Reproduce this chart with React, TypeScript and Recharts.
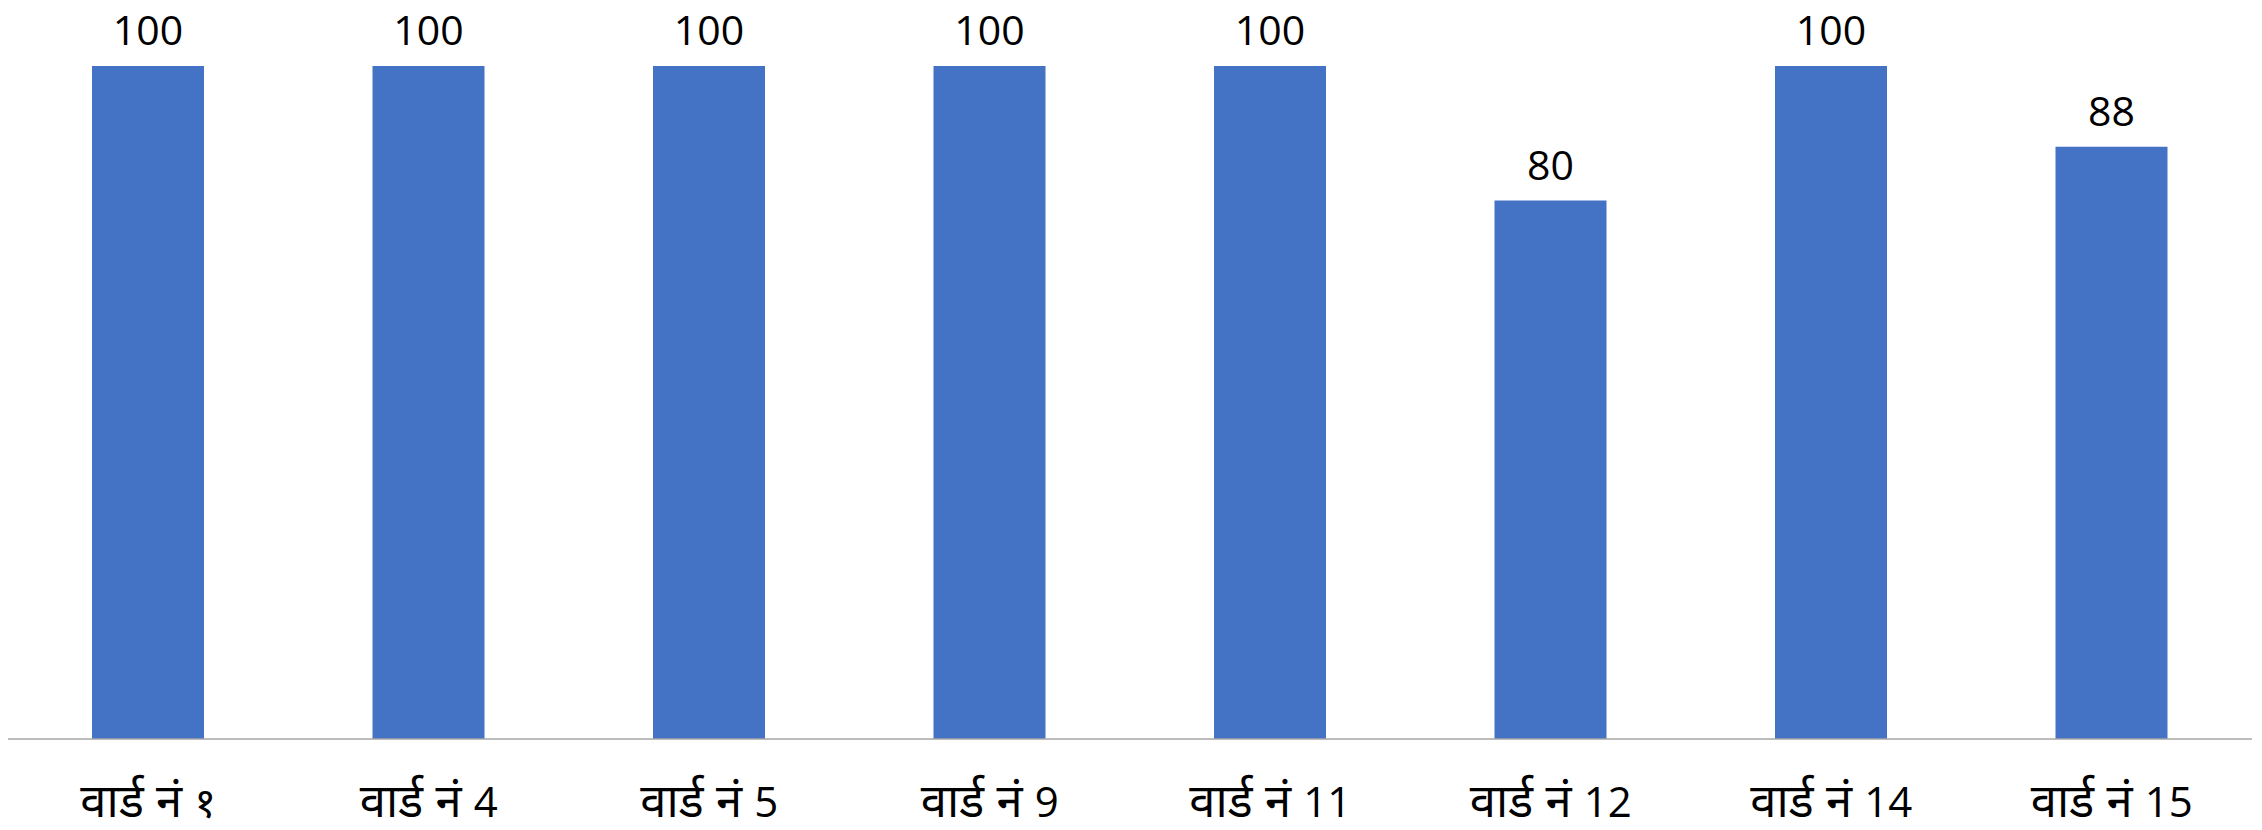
import React from 'react';
import { BarChart, Bar, XAxis, YAxis, LabelList } from 'recharts';

const wards = ['वार्ड नं १', 'वार्ड नं 4', 'वार्ड नं 5', 'वार्ड नं 9', 'वार्ड नं 11', 'वार्ड नं 12', 'वार्ड नं 14', 'वार्ड नं 15'];
const values = [100, 100, 100, 100, 100, 80, 100, 88];

const data = wards.map((w, i) => ({ ward: w, value: values[i] }));

const FONT = '"Open Sans", "Noto Sans", sans-serif';

const Tick = (props: any) => {
  const { x, y, payload } = props;
  const s: string = payload.value;
  const k = s.lastIndexOf(' ');
  const head = s.slice(0, k + 1);
  const num = s.slice(k + 1);
  return (
    <text x={x} y={y + 70} textAnchor="middle" fontFamily={FONT} fill="#000">
      <tspan fontSize={47}>{head}</tspan>
      <tspan fontSize={42}>{num}</tspan>
    </text>
  );
};

export default function App() {
  return (
    <div style={{ position: 'absolute', left: 0, top: 0, width: 2262, height: 830, background: '#fff' }}>
      <BarChart width={2262} height={830} data={data} margin={{ top: 66, right: 10, bottom: 0, left: 8 }} barSize={112}>
        <XAxis dataKey="ward" axisLine={{ stroke: '#a6a6a6', strokeWidth: 1.5 }} tickLine={false} height={91} tick={<Tick />} interval={0} />
        <YAxis hide domain={[0, 100]} />
        <Bar dataKey="value" fill="#4472c4" isAnimationActive={false}>
          <LabelList dataKey="value" position="top" offset={21} fontFamily={FONT} fontSize={41} fill="#000" />
        </Bar>
      </BarChart>
    </div>
  );
}
